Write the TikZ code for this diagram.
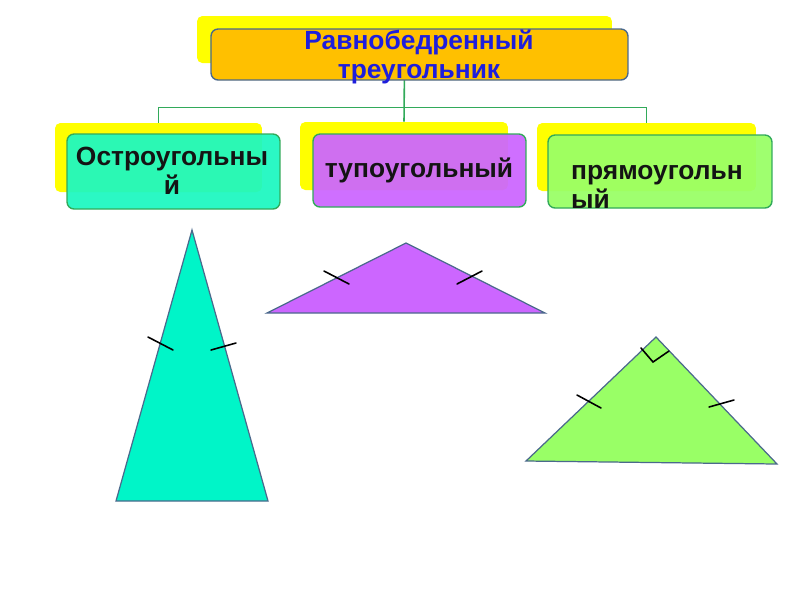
\documentclass[tikz,border=0pt]{standalone}
\usepackage{fontspec}
\setmainfont{Liberation Sans}

\definecolor{shadowyellow}{RGB}{255,255,0}
\definecolor{headorange}{RGB}{255,192,0}
\definecolor{headblue}{RGB}{30,30,220}
\definecolor{acuteteal}{RGB}{30,248,192}
\definecolor{trianteal}{RGB}{0,245,200}
\definecolor{obtusepurple}{RGB}{204,102,255}
\definecolor{rightgreen}{RGB}{153,255,102}
\definecolor{linkgreen}{RGB}{50,170,90}
\definecolor{edgeblue}{RGB}{75,105,140}
\definecolor{labelblack}{RGB}{20,20,20}

\begin{document}
\begin{tikzpicture}[x=0.02cm, y=-0.02cm,
    every node/.style={font=\bfseries\fontsize{15}{16.5}\selectfont, text=labelblack},
    shadow/.style={fill=shadowyellow, rounded corners=3pt, inner sep=0pt},
    kind/.style={draw=linkgreen, line width=0.8pt, rounded corners=4pt, fill opacity=0.94, inner sep=0pt},
    link/.style={draw=linkgreen, line width=0.9pt},
    tri/.style={draw=edgeblue, line width=0.7pt},
    tick/.style={line width=0.9pt, line cap=round}]
    \useasboundingbox (0,0) rectangle (800,600);

    % yellow shadows behind the boxes
    \node[shadow, minimum width=8.3cm, minimum height=0.94cm] (headshadow) at (404.5,39.5) {};
    \node[shadow, minimum width=4.14cm, minimum height=1.38cm] (acuteshadow) at (158.5,157.5) {};
    \node[shadow, minimum width=4.16cm, minimum height=1.36cm] (obtuseshadow) at (404,156) {};
    \node[shadow, minimum width=4.38cm, minimum height=1.36cm] (rightshadow) at (646.5,157) {};

    % connectors
    \draw[link] (headshadow.south) -- (obtuseshadow.north);
    \draw[link] (acuteshadow.north) -- ++(0,-15) -| (rightshadow.north);

    % boxes
    \node[kind, draw=edgeblue, fill=headorange, fill opacity=1, minimum width=8.34cm, minimum height=1.02cm] (head) at (419.5,54.5) {};
    \node[kind, fill=acuteteal, minimum width=4.26cm, minimum height=1.5cm] (acute) at (173.5,171.5) {};
    \node[kind, fill=obtusepurple, minimum width=4.26cm, minimum height=1.46cm] (obtuse) at (419.5,170.5) {};
    \node[kind, fill=rightgreen, minimum width=4.48cm, minimum height=1.46cm] (right) at (660,171.5) {};

    % labels
    \node[text=headblue, align=center] (headtext) at (419,57) {Равнобедренный\\треугольник};
    \node[align=center] (acutetext) at (172,171) {Остроугольны\\й};
    \node (obtusetext) at (419,170) {тупоугольный};
    \node[align=left, anchor=west] (righttext) at (565,187) {прямоугольн\\ый};

    % acute isosceles triangle
    \filldraw[tri, fill=trianteal] (192,230) -- (268,501) -- (116,501) -- cycle;
    \draw[tick] (148,337) -- (173,350);
    \draw[tick] (211,350) -- (236,343);

    % obtuse isosceles triangle
    \filldraw[tri, fill=obtusepurple] (267,313) -- (406,243) -- (545,313) -- cycle;
    \draw[tick] (324,271) -- (349,284);
    \draw[tick] (457,284) -- (482,271);

    % right isosceles triangle
    \filldraw[tri, fill=rightgreen] (526,461) -- (656,337) -- (777,464) -- cycle;
    \draw[tick] (577,395) -- (601,408);
    \draw[tick] (709,407) -- (734,400);
    \draw[tick] (641,348) -- (653,362) -- (669,351);
\end{tikzpicture}
\end{document}
